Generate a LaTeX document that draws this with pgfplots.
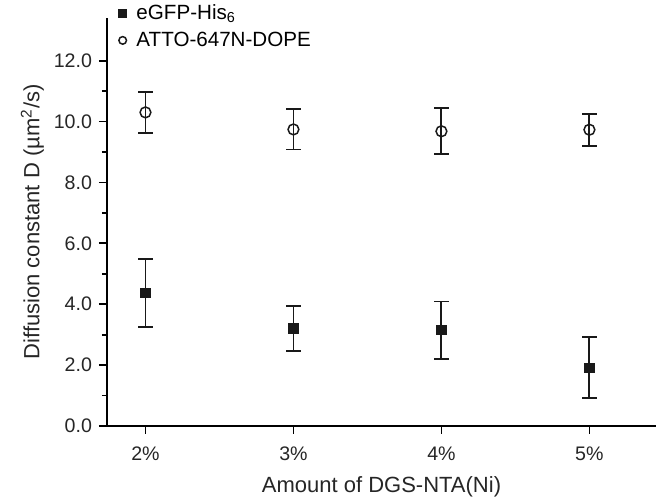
\documentclass[border=0pt]{standalone}
\usepackage{pgfplots}
\pgfplotsset{compat=1.18}
\usepackage{fontspec}
\setmainfont{Liberation Sans}

\pgfplotstableread{
x  y     e
0  4.37  1.12
1  3.20  0.75
2  3.15  0.94
3  1.91  1.00
}\egfp
\pgfplotstableread{
x  y     e
0  10.30 0.67
1  9.74  0.66
2  9.68  0.76
3  9.73  0.52
}\atto

\begin{document}
\begin{tikzpicture}
\begin{axis}[
    scale only axis,
    width=274.5pt, height=204pt,
    xmin=-0.26, xmax=3.45,
    ymin=0, ymax=13.4,
    axis x line*=bottom, axis y line*=left,
    axis line style={line width=0.9pt, -},
    xtick={0,1,2,3},
    xticklabels={2\%,3\%,4\%,5\%},
    ytick={0,2,...,12},
    minor y tick num=1,
    tick align=outside,
    major tick length=4pt, minor tick length=2.5pt,
    tick style={line width=0.9pt, black},
    yticklabel style={/pgf/number format/.cd, fixed, fixed zerofill, precision=1, assume math mode=true},
    ticklabel style={font=\fontsize{9.8}{11}\selectfont, text=black!85},
    xticklabel style={yshift=-3pt},
    xlabel={Amount of DGS-NTA(Ni)},
    ylabel={Diffusion constant D (µm\textsuperscript{2}/s)},
    label style={font=\fontsize{11}{13}\selectfont, text=black!85},
    xlabel style={yshift=-1pt},
    ylabel style={yshift=-2pt},
    legend style={at={(0.01,1.053)}, anchor=north west, draw=none, fill=none,
        font=\fontsize{10.3}{12}\selectfont, row sep=0.5pt},
    legend image post style={mark size=1.9pt},
    legend cell align=left,
    clip=false,
]
\addplot[only marks, mark=square*, mark size=2.4pt, black!90, mark options={line width=0.5pt},
    error bars/.cd, y dir=both, y explicit,
    error mark options={rotate=90, mark size=3.6pt, line width=0.95pt, black!90},
    error bar style={line width=0.95pt, black!90}]
    table[x=x, y=y, y error=e] {\egfp};
\addplot[only marks, mark=o, mark size=2.7pt, black!90, mark options={fill=white, line width=0.75pt},
    error bars/.cd, y dir=both, y explicit,
    error mark options={rotate=90, mark size=3.6pt, line width=0.95pt, black!90},
    error bar style={line width=0.95pt, black!90}]
    table[x=x, y=y, y error=e] {\atto};
\legend{\hspace{3pt}eGFP-His\textsubscript{6}, \hspace{3pt}ATTO-647N-DOPE}
\end{axis}
\pgfresetboundingbox
\path ([shift={(-53.5pt,-38.5pt)}]current axis.south west) rectangle ([shift={(0pt,9pt)}]current axis.north east);
\end{tikzpicture}
\end{document}
